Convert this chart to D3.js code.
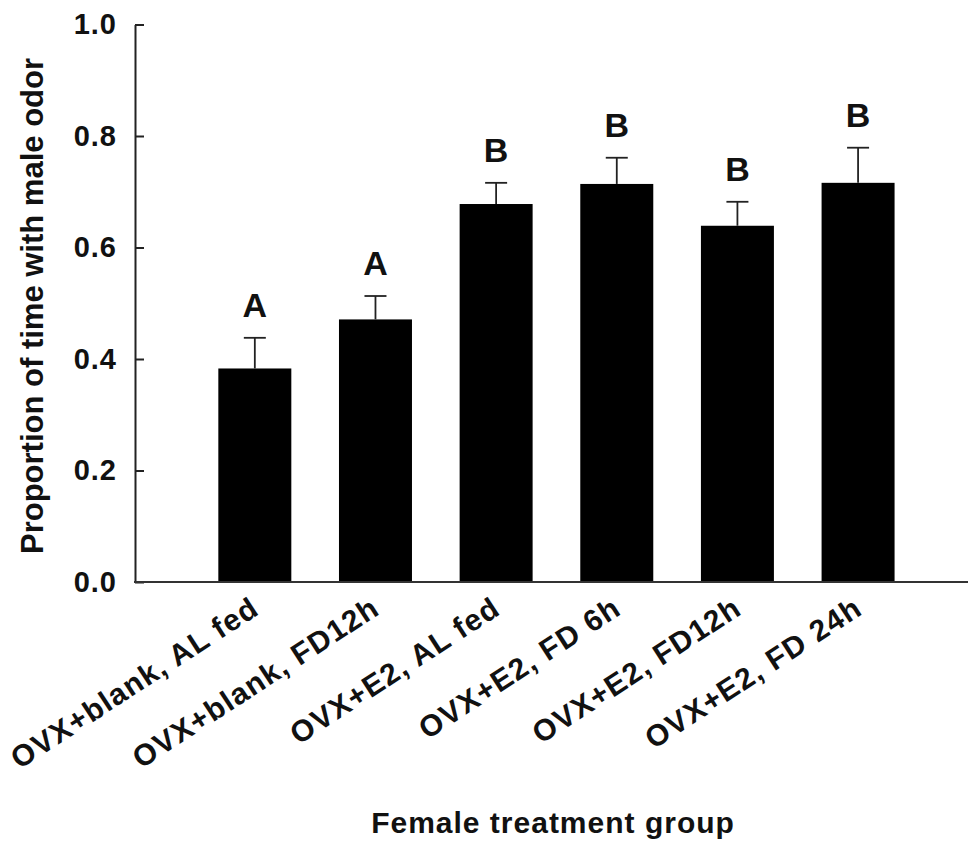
<!DOCTYPE html>
<html>
<head>
<meta charset="utf-8">
<script src="https://cdn.jsdelivr.net/npm/d3@7"></script>
<style>
  body { margin: 0; background: #fff; }
  text { font-family: "Liberation Sans", Arial, sans-serif; font-weight: bold; fill: #111; }
</style>
</head>
<body>
<div id="chart"></div>
<script>
// data
const groups = [
  "OVX+blank, AL fed",
  "OVX+blank, FD12h",
  "OVX+E2, AL fed",
  "OVX+E2, FD 6h",
  "OVX+E2, FD12h",
  "OVX+E2, FD 24h",
];
const means = [0.383, 0.471, 0.678, 0.714, 0.639, 0.716];
const sems = [0.055, 0.042, 0.038, 0.047, 0.043, 0.063];
const letters = ["A", "A", "B", "B", "B", "B"];
const yTicks = [0, 0.2, 0.4, 0.6, 0.8, 1.0];

const width = 968, height = 842;
const axisX = 135, axisY = 582;

const svg = d3.select("#chart").append("svg")
  .attr("width", width)
  .attr("height", height);

const y = d3.scaleLinear().domain([0, 1]).range([axisY, 24.5]);
const x = d3.scaleBand()
  .domain(groups)
  .range([194.5, 918.4])
  .paddingInner(0.395)
  .paddingOuter(0.1975);

// bars
svg.append("g")
  .selectAll("rect")
  .data(groups)
  .join("rect")
  .attr("x", (d) => x(d))
  .attr("y", (d, i) => y(means[i]))
  .attr("width", x.bandwidth())
  .attr("height", (d, i) => axisY - y(means[i]))
  .attr("fill", "#000");

// error bars (upper only)
const err = svg.append("g").attr("stroke", "#222").attr("stroke-width", 1.8);
groups.forEach((g, i) => {
  const cx = x(g) + x.bandwidth() / 2;
  const top = y(means[i] + sems[i]);
  err.append("line")
    .attr("x1", cx).attr("x2", cx)
    .attr("y1", y(means[i])).attr("y2", top);
  err.append("line")
    .attr("x1", cx - 11).attr("x2", cx + 11)
    .attr("y1", top).attr("y2", top);
});

// significance letters
svg.append("g")
  .selectAll("text")
  .data(groups)
  .join("text")
  .attr("x", (d) => x(d) + x.bandwidth() / 2)
  .attr("y", (d, i) => y(means[i] + sems[i]) - 21)
  .attr("text-anchor", "middle")
  .attr("font-size", 34)
  .text((d, i) => letters[i]);

// y axis
const yAxis = svg.append("g").attr("transform", `translate(${axisX},0)`);
yAxis.call(d3.axisLeft(y).tickValues(yTicks).tickFormat(d3.format(".1f")).tickSizeInner(-9).tickSizeOuter(0).tickPadding(18));
yAxis.attr("font-family", null);
yAxis.select(".domain").attr("stroke", "#222").attr("stroke-width", 2);
yAxis.selectAll(".tick line").attr("stroke", "#222").attr("stroke-width", 2);
yAxis.selectAll(".tick text")
  .attr("font-size", 29)
  .attr("letter-spacing", 1)
  .attr("fill", "#111");

// x axis line
svg.append("line")
  .attr("x1", axisX - 1).attr("x2", width)
  .attr("y1", axisY).attr("y2", axisY)
  .attr("stroke", "#333")
  .attr("stroke-width", 2);

// category labels, rotated
svg.append("g")
  .selectAll("text")
  .data(groups)
  .join("text")
  .attr("transform", (d) => `translate(${x(d) + x.bandwidth() / 2 + 6},613) rotate(-33)`)
  .attr("text-anchor", "end")
  .attr("font-size", 30)
  .attr("letter-spacing", 1.2)
  .text((d) => d);

// axis titles
svg.append("text")
  .attr("x", 553)
  .attr("y", 833)
  .attr("text-anchor", "middle")
  .attr("font-size", 30)
  .attr("letter-spacing", 1)
  .text("Female treatment group");

svg.append("text")
  .attr("transform", "translate(43,306) rotate(-90)")
  .attr("text-anchor", "middle")
  .attr("font-size", 31)
  .text("Proportion of time with male odor");
</script>
</body>
</html>
